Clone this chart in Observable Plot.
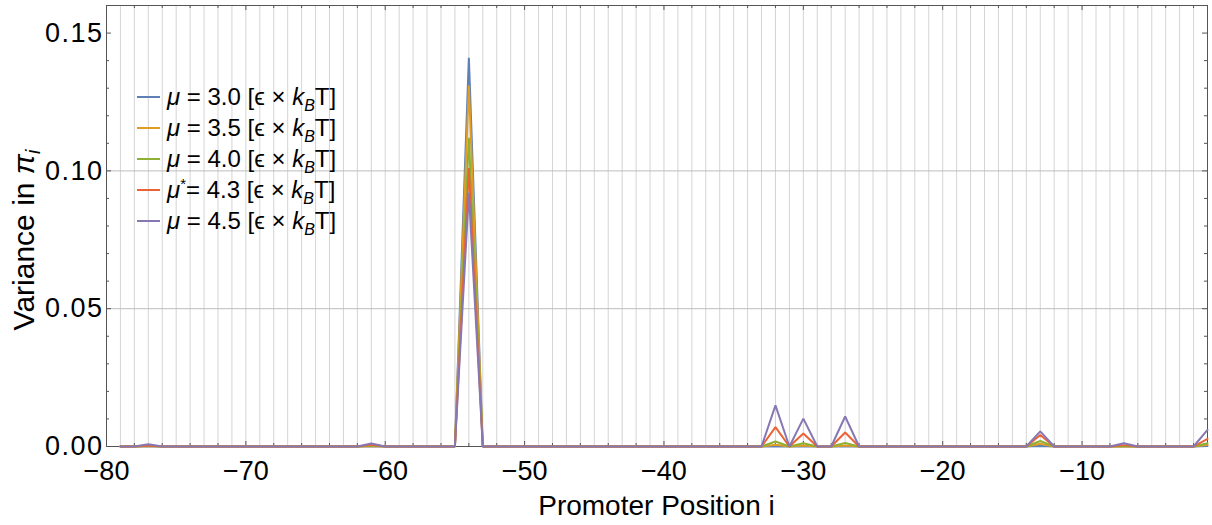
<!DOCTYPE html>
<html>
<head>
<meta charset="utf-8">
<script src="https://cdn.jsdelivr.net/npm/d3@7"></script>
<script src="https://cdn.jsdelivr.net/npm/@observablehq/plot@0.6"></script>
<style>
  html, body { margin: 0; padding: 0; background: #fff; }
  #chart { width: 1212px; height: 525px; }
  svg { font-family: "Liberation Sans", Arial, Helvetica, sans-serif; }
</style>
</head>
<body>
<div id="chart"></div>
<script>
// Promoter positions i
const positions = [
  -79,-78,-77,-76,-75,-74,-73,-72,-71,-70,
  -69,-68,-67,-66,-65,-64,-63,-62,-61,-60,
  -59,-58,-57,-56,-55,-54,-53,-52,-51,-50,
  -49,-48,-47,-46,-45,-44,-43,-42,-41,-40,
  -39,-38,-37,-36,-35,-34,-33,-32,-31,-30,
  -29,-28,-27,-26,-25,-24,-23,-22,-21,-20,
  -19,-18,-17,-16,-15,-14,-13,-12,-11,-10,
  -9,-8,-7,-6,-5,-4,-3,-2,-1
];

// Variance in pi_i for each chemical potential
const mu30 = [
  0,0,0.0001,0,0,0,0,0,0,0,
  0,0,0,0,0,0,0,0,0.0001,0,
  0,0,0,0,0,0.141,0,0,0,0,
  0,0,0,0,0,0,0,0,0,0,
  0,0,0,0,0,0,0,0.0001,0,0.0001,
  0,0,0.0001,0,0,0,0,0,0,0,
  0,0,0,0,0,0,0.0002,0,0,0,
  0,0,0,0,0,0,0,0,0.0002
];
const mu35 = [
  0,0,0.0002,0,0,0,0,0,0,0,
  0,0,0,0,0,0,0,0,0.0002,0,
  0,0,0,0,0,0.131,0,0,0,0,
  0,0,0,0,0,0,0,0,0,0,
  0,0,0,0,0,0,0,0.0006,0,0.0004,
  0,0,0.0004,0,0,0,0,0,0,0,
  0,0,0,0,0,0,0.0010,0,0,0,
  0,0,0.0001,0,0,0,0,0,0.0006
];
const mu40 = [
  0,0,0.0003,0,0,0,0,0,0,0,
  0,0,0,0,0,0,0,0,0.0004,0,
  0,0,0,0,0,0.112,0,0,0,0,
  0,0,0,0,0,0,0,0,0,0,
  0,0,0,0,0,0,0,0.0018,0,0.0012,
  0,0,0.0013,0,0,0,0,0,0,0,
  0,0,0,0,0,0,0.0020,0,0,0,
  0,0,0.0002,0,0,0,0,0,0.0012
];
const mu43 = [
  0,0,0.0004,0,0,0,0,0,0,0,
  0,0,0,0,0,0,0,0,0.0006,0,
  0,0,0,0,0,0.101,0,0,0,0,
  0,0,0,0,0,0,0,0,0,0,
  0,0,0,0,0,0,0,0.0070,0,0.0047,
  0,0,0.0051,0,0,0,0,0,0,0,
  0,0,0,0,0,0,0.0042,0,0,0,
  0,0,0.0005,0,0,0,0,0,0.0028
];
const mu45 = [
  0,0,0.0008,0,0,0,0,0,0,0,
  0,0,0,0,0,0,0,0,0.0011,0,
  0,0,0,0,0,0.092,0,0,0,0,
  0,0,0,0,0,0,0,0,0,0,
  0,0,0,0,0,0,0,0.0149,0,0.0101,
  0,0,0.0109,0,0,0,0,0,0,0,
  0,0,0,0,0,0,0.0055,0,0,0,
  0,0,0.0012,0,0,0,0,0,0.0060
];

const seriesValues = [mu30, mu35, mu40, mu43, mu45];
const seriesMu = ["3.0", "3.5", "4.0", "4.3", "4.5"];
const seriesStar = [false, false, false, true, false];
const seriesColors = ["#5E81B5", "#E19C24", "#8FB032", "#EB6235", "#8778B3"];

// Axis ticks
const xMajorTicks = [-80, -70, -60, -50, -40, -30, -20, -10];
const xMinorTicks = [-78,-76,-74,-72,-68,-66,-64,-62,-58,-56,-54,-52,-48,-46,-44,-42,
                     -38,-36,-34,-32,-28,-26,-24,-22,-18,-16,-14,-12,-8,-6,-4,-2];
const yMajorTicks = [0, 0.05, 0.10, 0.15];
const yMinorTicks = [0.01,0.02,0.03,0.04,0.06,0.07,0.08,0.09,0.11,0.12,0.13,0.14];
const xGrid = positions.filter(p => p > -80 && p < -1);
const yGrid = [0.05, 0.10];

const W = 1212, H = 525;
const mL = 106, mR = 5, mT = 5, mB = 79;
const innerW = W - mL - mR, innerH = H - mT - mB;
const frameColor = "#555";
const FONT = '"Liberation Sans", Arial, Helvetica, sans-serif';

const lineMarks = seriesValues.map((vals, si) =>
  Plot.line(positions.map((p, i) => ({x: p, y: vals[i]})), {
    x: "x", y: "y", stroke: seriesColors[si], strokeWidth: 2, strokeLinejoin: "miter"
  })
);

const chart = Plot.plot({
  width: W, height: H,
  marginLeft: mL, marginRight: mR, marginTop: mT, marginBottom: mB,
  style: {fontFamily: FONT, background: "#fff"},
  x: {domain: [-80, -1]},
  y: {domain: [0, 0.16]},
  marks: [
    Plot.ruleX(xGrid, {stroke: "#d4d4d4", strokeWidth: 1}),
    Plot.ruleY(yGrid, {stroke: "#bdbdbd", strokeWidth: 1}),
    Plot.axisX(xMajorTicks, {tickSize: 0, tickPadding: 14, fontSize: 27, label: null, fill: "#000", tickFormat: d => d3.format("d")(d).replace("-", "\u2212")}),
    Plot.axisY(yMajorTicks, {tickSize: 0, tickPadding: 3, fontSize: 27, label: null, fill: "#000", tickFormat: d3.format(".2f")}),
    // inward ticks: bottom/top
    Plot.tickX(xMajorTicks, {x: d => d, insetTop: innerH - 5, stroke: frameColor}),
    Plot.tickX(xMinorTicks, {x: d => d, insetTop: innerH - 3, stroke: frameColor}),
    Plot.tickX(xMajorTicks, {x: d => d, insetBottom: innerH - 5, stroke: frameColor}),
    Plot.tickX(xMinorTicks, {x: d => d, insetBottom: innerH - 3, stroke: frameColor}),
    // inward ticks: left/right
    Plot.tickY(yMajorTicks, {y: d => d, insetRight: innerW - 5, stroke: frameColor}),
    Plot.tickY(yMinorTicks, {y: d => d, insetRight: innerW - 3, stroke: frameColor}),
    Plot.tickY(yMajorTicks, {y: d => d, insetLeft: innerW - 5, stroke: frameColor}),
    Plot.tickY(yMinorTicks, {y: d => d, insetLeft: innerW - 3, stroke: frameColor}),
    Plot.frame({stroke: frameColor, strokeWidth: 1}),
    ...lineMarks
  ]
});

document.getElementById("chart").appendChild(chart);

// Slightly wider spacing for the y tick labels, as in the reference
d3.select(chart).selectAll('g[aria-label="y-axis tick label"] text').attr("letter-spacing", "1.5px");

// Axis titles and legend as real SVG text
const svg = d3.select(chart);
const txtColor = "#000";

svg.append("text")
  .attr("x", mL + innerW / 2).attr("y", 515)
  .attr("text-anchor", "middle").attr("font-size", 28).attr("fill", txtColor)
  .attr("font-family", FONT)
  .text("Promoter Position i");

const yt = svg.append("text")
  .attr("transform", "translate(34,240) rotate(-90)")
  .attr("text-anchor", "middle").attr("font-size", 30).attr("fill", txtColor)
  .attr("font-family", FONT);
yt.append("tspan").text("Variance in ");
yt.append("tspan").attr("font-style", "italic").text("\u03C0");
yt.append("tspan").attr("font-style", "italic").attr("font-size", 20).attr("dy", 6).text("i");

// Legend
const legX = 137, legY0 = 97, legDy = 31;
seriesMu.forEach((mu, i) => {
  const y = legY0 + i * legDy;
  svg.append("line").attr("x1", legX).attr("x2", legX + 23)
    .attr("y1", y).attr("y2", y)
    .attr("stroke", seriesColors[i]).attr("stroke-width", 2);
  const t = svg.append("text").attr("x", legX + 30).attr("y", y + 8)
    .attr("text-anchor", "start")
    .attr("font-family", FONT)
    .attr("font-size", 24).attr("fill", txtColor);
  t.append("tspan").attr("font-style", "italic").text("\u03BC");
  if (seriesStar[i]) {
    t.append("tspan").attr("font-size", 15).attr("dy", -9).text("*");
    t.append("tspan").attr("dy", 9).text("= " + mu + " [\u03F5 \u00D7 ");
  } else {
    t.append("tspan").text(" = " + mu + " [\u03F5 \u00D7 ");
  }
  t.append("tspan").attr("font-style", "italic").text("k");
  t.append("tspan").attr("font-style", "italic").attr("font-size", 16).attr("dy", 6).text("B");
  t.append("tspan").attr("dy", -6).text("T]");
});
</script>
</body>
</html>
